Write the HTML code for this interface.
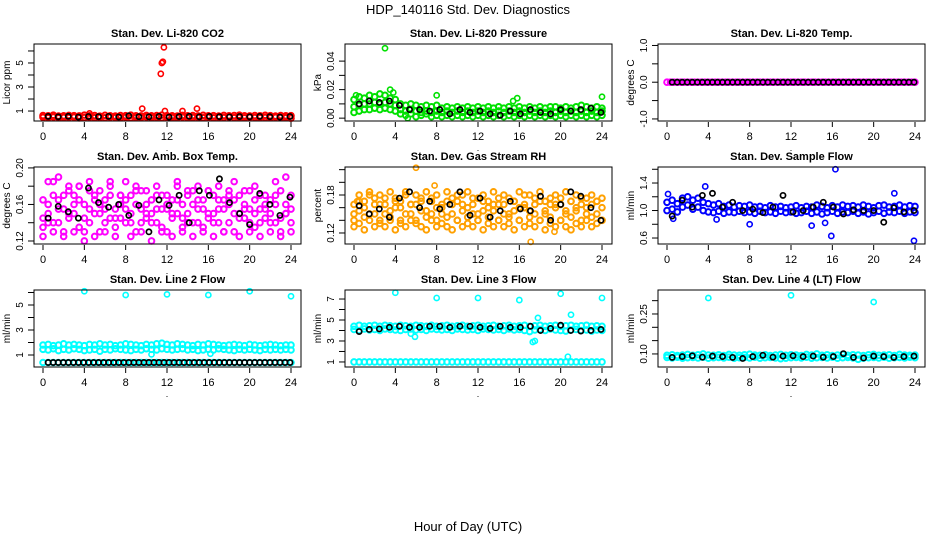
<!DOCTYPE html>
<html><head><meta charset="utf-8"><style>
body{margin:0;background:#fff;}
svg{display:block;font-family:"Liberation Sans",sans-serif;}
</style></head><body>
<svg id="chart" width="936" height="540" viewBox="0 0 936 540" xmlns="http://www.w3.org/2000/svg">
<text x="468" y="14" text-anchor="middle" font-size="13">HDP_140116  Std. Dev. Diagnostics</text>
<text x="468" y="531" text-anchor="middle" font-size="13">Hour of Day (UTC)</text>
</svg>
<script>
// ---- data ----
const hourTicks=[0,4,8,12,16,20,24];
const co2A=[0.62,0.6,0.65,0.58,0.6,0.63,0.61,0.59,0.66,0.6,0.62,0.57,0.64,0.6,0.58,0.62,0.61,0.65,0.6,0.59,0.63,0.6,0.62,0.66,0.61,0.6,0.58,0.63,0.6,0.62,0.59,0.64,0.6,0.61,0.58,0.63,0.6,0.62,0.65,0.6,0.59,0.62,0.6,0.64,0.61,0.58,0.62,0.6,0.61];
const co2B=[0.48,0.45,0.5,0.44,0.47,0.46,0.49,0.43,0.46,0.48,0.45,0.47,0.44,0.49,0.46,0.45,0.48,0.44,0.47,0.46,0.5,0.45,0.47,0.44,0.48,0.46,0.45,0.49,0.44,0.47,0.46,0.45,0.48,0.44,0.47,0.46,0.49,0.45,0.47,0.44,0.48,0.46,0.45,0.47,0.44,0.48,0.46,0.45,0.4];
const co2K=[0.55,0.52,0.56,0.5,0.54,0.53,0.55,0.51,0.6,0.53,0.52,0.55,0.5,0.54,0.56,0.52,0.55,0.53,0.51,0.54,0.52,0.55,0.53,0.5,0.54];
const co2OH=[11.4,11.5,11.6,11.7,9.6,11.8,13.5,14.9,4.5];
const co2OV=[4.1,5.0,5.1,6.3,1.2,1.0,1.0,1.2,0.8];
const presA=[0.013,0.015,0.014,0.016,0.015,0.017,0.016,0.014,0.013,0.01,0.009,0.01,0.009,0.008,0.009,0.008,0.009,0.007,0.008,0.007,0.008,0.007,0.008,0.007,0.008,0.007,0.008,0.007,0.008,0.007,0.008,0.007,0.008,0.007,0.008,0.007,0.008,0.007,0.008,0.008,0.007,0.008,0.007,0.008,0.009,0.008,0.007,0.008,0.007];
const presB=[0.008,0.009,0.01,0.01,0.011,0.01,0.011,0.01,0.009,0.006,0.005,0.006,0.005,0.004,0.005,0.004,0.005,0.004,0.005,0.004,0.005,0.004,0.005,0.004,0.005,0.004,0.005,0.004,0.005,0.004,0.005,0.004,0.005,0.004,0.005,0.004,0.005,0.004,0.005,0.004,0.005,0.004,0.005,0.004,0.005,0.004,0.005,0.004,0.005];
const presC=[0.004,0.005,0.006,0.006,0.007,0.006,0.007,0.006,0.005,0.003,0.002,0.003,0.001,0.002,0.003,0.001,0.002,0.001,0.002,0.001,0.002,0.001,0.002,0.001,0.002,0.001,0.002,0.001,0.002,0.001,0.002,0.001,0.002,0.001,0.002,0.001,0.002,0.001,0.002,0.001,0.002,0.001,0.002,0.001,0.002,0.001,0.002,0.001,0.002];
const presK=[0.01,0.012,0.011,0.012,0.009,0.006,0.006,0.005,0.006,0.003,0.006,0.004,0.005,0.003,0.002,0.005,0.003,0.006,0.004,0.003,0.006,0.005,0.006,0.007,0.004];
const presOH=[3.0,3.5,0.2,8.0,15.8,15.4,24.0,3.8,5.2];
const presOV=[0.049,0.02,0.016,0.016,0.014,0.012,0.015,0.018,0.0];
const tempA=[0,0,0,0,0,0,0,0,0,0,0,0,0,0,0,0,0,0,0,0,0,0,0,0,0,0,0,0,0,0,0,0,0,0,0,0,0,0,0,0,0,0,0,0,0,0,0,0,0,0,0,0,0,0,0,0,0,0,0,0,0,0,0,0,0,0,0,0,0,0,0,0,0];
const tempK=[0,0,0,0,0,0,0,0,0,0,0,0,0,0,0,0,0,0,0,0,0,0,0,0,0,0,0,0,0,0,0,0,0,0,0,0,0,0,0,0,0,0,0,0,0,0,0,0,0];
const ambA=[.145,.16,.17,.14,.155,.18,.15,.165,.13,.175,.15,.16,.14,.17,.155,.145,.165,.15,.175,.14,.16,.15,.17,.135,.155,.165,.15,.145,.17,.16,.14,.155,.175,.15,.165,.13,.16,.15,.17,.145,.155,.165,.14,.16,.15,.17,.145,.16,.155];
const ambB=[.135,.15,.14,.165,.13,.145,.17,.135,.16,.14,.165,.13,.155,.145,.135,.16,.14,.17,.13,.155,.145,.165,.14,.155,.13,.15,.165,.135,.15,.14,.165,.135,.15,.14,.155,.165,.14,.13,.15,.16,.14,.135,.155,.145,.165,.14,.13,.15,.14];
const ambC=[.165,.14,.185,.155,.17,.15,.16,.18,.145,.155,.17,.15,.165,.185,.145,.17,.155,.14,.16,.175,.15,.14,.155,.17,.16,.145,.18,.16,.14,.175,.155,.165,.145,.17,.14,.155,.175,.165,.145,.155,.175,.15,.17,.155,.14,.16,.175,.15,.17];
const ambD=[.125,.185,.13,.19,.125,.175,.13,.18,.12,.185,.125,.175,.13,.18,.125,.17,.185,.125,.18,.13,.175,.12,.18,.13,.17,.125,.185,.13,.175,.125,.18,.13,.175,.125,.18,.13,.17,.185,.125,.175,.13,.18,.125,.17,.13,.185,.125,.19,.13];
const ambK=[.145,.158,.152,.145,.178,.162,.157,.16,.148,.159,.13,.165,.159,.17,.14,.175,.17,.188,.162,.15,.138,.172,.16,.148,.168];
const rhA=[.15,.17,.16,.18,.15,.165,.175,.155,.17,.16,.18,.15,.165,.17,.155,.175,.16,.15,.17,.165,.18,.155,.16,.175,.15,.17,.16,.155,.175,.165,.15,.17,.16,.18,.155,.165,.17,.15,.175,.16,.165,.155,.17,.16,.175,.15,.165,.17,.16];
const rhB=[.14,.155,.145,.15,.165,.14,.15,.145,.16,.14,.15,.165,.14,.155,.145,.15,.14,.16,.145,.15,.14,.165,.145,.15,.14,.155,.145,.165,.14,.15,.145,.155,.14,.16,.145,.15,.14,.155,.145,.165,.14,.15,.145,.155,.14,.16,.145,.15,.14];
const rhC=[.165,.18,.17,.185,.175,.18,.165,.185,.175,.17,.185,.165,.18,.175,.185,.17,.18,.165,.185,.175,.17,.18,.185,.165,.175,.18,.17,.185,.165,.18,.175,.17,.185,.165,.18,.175,.185,.17,.165,.18,.175,.185,.17,.18,.165,.175,.18,.17,.175];
const rhD=[.13,.135,.125,.14,.13,.135,.13,.14,.125,.135,.13,.14,.135,.13,.125,.14,.13,.135,.13,.125,.14,.13,.135,.13,.14,.125,.135,.13,.14,.13,.135,.125,.14,.13,.135,.13,.14,.125,.135,.13,.14,.13,.125,.135,.13,.14,.13,.135,.14];
const rhK=[.163,.15,.158,.145,.175,.185,.16,.17,.158,.165,.185,.148,.175,.145,.155,.17,.158,.155,.178,.14,.165,.185,.178,.16,.14];
const rhOH=[6.0,17.1,19.4,7.8,0.3];
const rhOV=[.223,.106,.122,.195,.17];
const flowA=[1.12,1.15,1.1,1.18,1.2,1.15,1.18,1.12,1.1,1.08,1.1,1.06,1.08,1.05,1.07,1.06,1.08,1.05,1.06,1.04,1.07,1.05,1.06,1.04,1.05,1.07,1.04,1.06,1.05,1.08,1.06,1.04,1.07,1.05,1.08,1.06,1.07,1.05,1.08,1.06,1.04,1.07,1.08,1.05,1.06,1.08,1.05,1.07,1.06];
const flowB=[1.0,1.02,0.98,1.05,1.08,1.02,1.05,1.0,0.98,0.97,0.99,0.96,0.98,0.97,0.99,0.97,0.98,0.96,0.99,0.97,0.98,0.96,0.99,0.97,0.98,0.96,0.97,0.99,0.96,0.98,0.95,0.97,0.99,0.96,0.98,0.97,0.99,0.96,0.98,0.95,0.97,0.99,0.96,0.98,0.97,0.99,0.96,0.98,0.97];
const flowK=[0.92,1.15,1.05,1.22,1.25,1.05,1.12,1.0,1.02,0.97,1.05,1.22,0.98,1.0,1.05,1.12,1.05,0.95,1.01,1.0,1.0,0.83,1.04,0.98,1.0];
const flowOH=[16.3,3.7,22.0,15.9,23.9,14.0,8.0,15.3,4.8,0.6,0.1];
const flowOV=[1.6,1.35,1.25,0.63,0.56,0.78,0.8,0.82,0.87,0.88,1.24];
const l2A=[1.8,1.85,1.75,1.8,1.9,1.8,1.85,1.8,1.75,1.85,1.8,1.9,1.8,1.85,1.75,1.8,1.9,1.85,1.8,1.75,1.85,1.8,1.9,1.95,1.85,1.8,1.9,1.85,1.8,1.75,1.85,1.8,1.9,1.85,1.8,1.75,1.8,1.85,1.8,1.75,1.85,1.8,1.75,1.8,1.85,1.8,1.75,1.8,1.8];
const l2B=[1.45,1.4,1.5,1.35,1.45,1.4,1.5,1.45,1.35,1.4,1.45,1.3,1.45,1.4,1.5,1.45,1.4,1.35,1.45,1.4,1.5,1.45,1.4,1.5,1.45,1.4,1.45,1.5,1.4,1.45,1.35,1.4,1.45,1.4,1.5,1.45,1.4,1.35,1.45,1.4,1.45,1.4,1.35,1.45,1.4,1.45,1.4,1.45,1.4];
const l2C=[0.4,0.4,0.4,0.4,0.4,0.4,0.4,0.4,0.4,0.4,0.4,0.4,0.4,0.4,0.4,0.4,0.4,0.4,0.4,0.4,0.4,0.4,0.4,0.4,0.4,0.4,0.4,0.4,0.4,0.4,0.4,0.4,0.4,0.4,0.4,0.4,0.4,0.4,0.4,0.4,0.4,0.4,0.4,0.4,0.4,0.4,0.4,0.4,0.4];
const l2K=[0.4,0.4,0.4,0.4,0.4,0.4,0.4,0.4,0.4,0.4,0.4,0.4,0.4,0.4,0.4,0.4,0.4,0.4,0.4,0.4,0.4,0.4,0.4,0.4,0.4,0.4,0.4,0.4,0.4,0.4,0.4,0.4,0.4,0.4,0.4,0.4,0.4,0.4,0.4,0.4,0.4,0.4,0.4,0.4,0.4,0.4,0.4,0.4,0.4];
const l2OH=[4.0,8.0,12.0,16.0,20.0,24.0,10.5,16.2];
const l2OV=[6.1,5.8,5.85,5.8,6.1,5.7,1.05,1.1];
const l3A=[4.4,4.5,4.4,4.45,4.5,4.4,4.5,4.45,4.4,4.5,4.45,4.4,4.5,4.45,4.4,4.5,4.4,4.45,4.5,4.4,4.45,4.5,4.4,4.45,4.5,4.4,4.45,4.5,4.4,4.45,4.5,4.4,4.45,4.5,4.4,4.45,4.5,4.4,4.45,4.5,4.4,4.45,4.5,4.4,4.45,4.5,4.4,4.45,4.4];
const l3B=[4.1,4.0,4.15,4.05,4.1,4.0,4.15,4.1,4.05,4.0,4.1,4.15,4.05,4.1,4.0,4.15,4.1,4.05,4.1,4.0,4.15,4.1,4.05,4.1,4.0,4.15,4.1,4.05,4.1,4.0,4.15,4.05,4.1,4.0,3.9,4.05,4.1,4.0,4.15,4.05,4.0,3.95,4.05,4.1,4.0,4.05,3.95,4.05,4.0];
const l3C=[1.0,1.0,1.0,1.0,1.0,1.0,1.0,1.0,1.0,1.0,1.0,1.0,1.0,1.0,1.0,1.0,1.0,1.0,1.0,1.0,1.0,1.0,1.0,1.0,1.0,1.0,1.0,1.0,1.0,1.0,1.0,1.0,1.0,1.0,1.0,1.0,1.0,1.0,1.0,1.0,1.0,1.0,1.0,1.0,1.0,1.0,1.0,1.0,1.0];
const l3K=[3.9,4.1,4.15,4.3,4.4,4.3,4.3,4.4,4.4,4.3,4.4,4.4,4.3,4.2,4.4,4.3,4.3,4.4,4.0,4.2,4.5,4.0,3.95,4.0,4.1];
const l3OH=[4.0,8.0,12.0,16.0,20.0,24.0,5.5,5.9,17.3,17.5,17.8,21.0,20.7];
const l3OV=[7.6,7.1,7.1,6.9,7.5,7.1,3.7,3.4,2.9,3.0,5.2,5.5,1.5];
const l4A=[0.095,0.097,0.094,0.096,0.098,0.095,0.097,0.1,0.096,0.095,0.097,0.094,0.098,0.096,0.095,0.097,0.099,0.096,0.095,0.097,0.094,0.096,0.098,0.095,0.097,0.096,0.094,0.098,0.096,0.1,0.095,0.097,0.094,0.096,0.098,0.095,0.097,0.096,0.094,0.097,0.098,0.095,0.096,0.097,0.094,0.098,0.096,0.095,0.096];
const l4B=[0.087,0.085,0.088,0.084,0.086,0.087,0.085,0.088,0.084,0.086,0.087,0.085,0.088,0.084,0.086,0.087,0.085,0.088,0.084,0.086,0.087,0.085,0.082,0.084,0.086,0.087,0.085,0.088,0.084,0.086,0.087,0.085,0.088,0.084,0.086,0.087,0.085,0.08,0.084,0.086,0.087,0.085,0.088,0.084,0.086,0.087,0.085,0.088,0.086];
const l4K=[0.087,0.09,0.093,0.088,0.092,0.09,0.087,0.083,0.09,0.095,0.088,0.092,0.093,0.09,0.092,0.088,0.09,0.101,0.087,0.085,0.092,0.09,0.087,0.09,0.092];
const l4OH=[4.0,12.0,20.0];
const l4OV=[0.31,0.32,0.295];

// ---- layout ----
const colLeft=[34,345,658], rowTop=[44,167,290], boxW=267, boxH=77;
const panels=[
 {t:"Stan. Dev. Li-820 CO2",yl:"Licor ppm",c:0,r:0,ymin:0.17,ymax:6.58,ticks:[1,2,3,4,5,6],labs:["1","3","5"],col:"#ff0000",ser:[co2A,co2B],oh:co2OH,ov:co2OV,k:co2K},
 {t:"Stan. Dev. Li-820 Pressure",yl:"kPa",c:1,r:0,ymin:-0.002,ymax:0.052,ticks:[0,0.01,0.02,0.03,0.04],labs:["0.00","0.02","0.04"],col:"#00e000",ser:[presA,presB,presC],oh:presOH,ov:presOV,k:presK},
 {t:"Stan. Dev. Li-820 Temp.",yl:"degrees C",c:2,r:0,ymin:-1.056,ymax:1.04,ticks:[-1,-0.5,0,0.5,1],labs:["-1.0","0.0","1.0"],col:"#ff00ff",ser:[tempA],oh:[],ov:[],k:tempK},
 {t:"Stan. Dev. Amb. Box Temp.",yl:"degrees C",c:0,r:1,ymin:0.1167,ymax:0.201,ticks:[0.12,0.14,0.16,0.18,0.2],labs:["0.12","0.16","0.20"],col:"#ff00ff",ser:[ambA,ambB,ambC,ambD],oh:[],ov:[],k:ambK},
 {t:"Stan. Dev. Gas Stream RH",yl:"percent",c:1,r:1,ymin:0.1026,ymax:0.2242,ticks:[0.12,0.14,0.16,0.18,0.2,0.22],labs:["0.12","0.18"],col:"#ffa000",ser:[rhA,rhB,rhC,rhD],oh:rhOH,ov:rhOV,k:rhK},
 {t:"Stan. Dev. Sample Flow",yl:"ml/min",c:2,r:1,ymin:0.513,ymax:1.633,ticks:[0.6,0.8,1.0,1.2,1.4,1.6],labs:["0.6","1.0","1.4"],col:"#0000ff",ser:[flowA,flowB],oh:flowOH,ov:flowOV,k:flowK},
 {t:"Stan. Dev. Line 2 Flow",yl:"ml/min",c:0,r:2,ymin:0.04,ymax:6.2,ticks:[1,2,3,4,5,6],labs:["1","3","5"],col:"#00ffff",ser:[l2A,l2B,l2C],oh:l2OH,ov:l2OV,k:l2K},
 {t:"Stan. Dev. Line 3 Flow",yl:"ml/min",c:1,r:2,ymin:0.52,ymax:7.86,ticks:[1,2,3,4,5,6,7],labs:["1","3","5","7"],col:"#00ffff",ser:[l3A,l3B,l3C],oh:l3OH,ov:l3OV,k:l3K},
 {t:"Stan. Dev. Line 4 (LT) Flow",yl:"ml/min",c:2,r:2,ymin:0.051,ymax:0.34,ticks:[0.1,0.15,0.2,0.25,0.3],labs:["0.10","0.25"],col:"#00ffff",ser:[l4A,l4B],oh:l4OH,ov:l4OV,k:l4K}
];
const NS="http://www.w3.org/2000/svg";
const svg=document.getElementById('chart');
function mk(tag,attrs,parent){const e=document.createElementNS(NS,tag);for(const a in attrs)e.setAttribute(a,attrs[a]);(parent||svg).appendChild(e);return e;}
panels.forEach((p,pi)=>{
 const L=colLeft[p.c],T=rowTop[p.r],B=T+boxH;
 const xS=h=>L+9+h/24*248;
 const yS=v=>B-(v-p.ymin)/(p.ymax-p.ymin)*boxH;
 const g=mk('g',{});
 
 
 const tt=mk('text',{x:L+boxW/2,y:T-7,'text-anchor':'middle','font-size':11,'font-weight':'bold'},g);tt.textContent=p.t;
 
 
 const pts=mk('g',{fill:'none','stroke-width':2},g);
 
 
 p.ser.forEach(s=>{s.forEach((v,i)=>{const c=mk('circle',{cx:xS(i*24/(s.length-1)),cy:yS(v),r:2.8,stroke:p.col},pts);
  
  });});
 p.oh.forEach((h,i)=>{const c=mk('circle',{cx:xS(h),cy:yS(p.ov[i]),r:2.6,stroke:p.col,'stroke-width':1.6},pts);
  
  });
 p.k.forEach((v,i)=>{const c=mk('circle',{cx:xS(0.5+i*23.4/(p.k.length-1)),cy:yS(v),r:2.6,stroke:'#000','stroke-width':1.7},pts);
  
  });
 const box=mk('rect',{x:L,y:T,width:boxW,height:boxH,fill:'none',stroke:'#000','stroke-width':1},g);
 
 
 hourTicks.forEach(h=>{mk('line',{x1:xS(h),x2:xS(h),y1:B+1,y2:B+6,stroke:'#000'},g);
  const t=mk('text',{x:xS(h),y:B+19,'text-anchor':'middle','font-size':11},g);t.textContent=h;
  
  });
 mk('text',{x:xS(12),y:B+30,'text-anchor':'middle','font-size':9},g).textContent='.';
 p.ticks.forEach(v=>{mk('line',{x1:L-6,x2:L,y1:yS(v),y2:yS(v),stroke:'#000'},g);});
 mk('line',{x1:L,x2:L,y1:yS(p.ticks[0]),y2:yS(p.ticks[p.ticks.length-1]),stroke:'#000'},g);
 p.labs.forEach(l=>{const v=parseFloat(l);const y=yS(v);
  const t=mk('text',{x:L-11,y:y,'text-anchor':'middle','font-size':10,transform:`rotate(-90 ${L-11} ${y})`},g);t.textContent=l;
  
  });
 const yt=mk('text',{x:L-24,y:T+boxH/2,'text-anchor':'middle','font-size':10,transform:`rotate(-90 ${L-24} ${T+boxH/2})`},g);yt.textContent=p.yl;
 
 
});
</script>
</body></html>
